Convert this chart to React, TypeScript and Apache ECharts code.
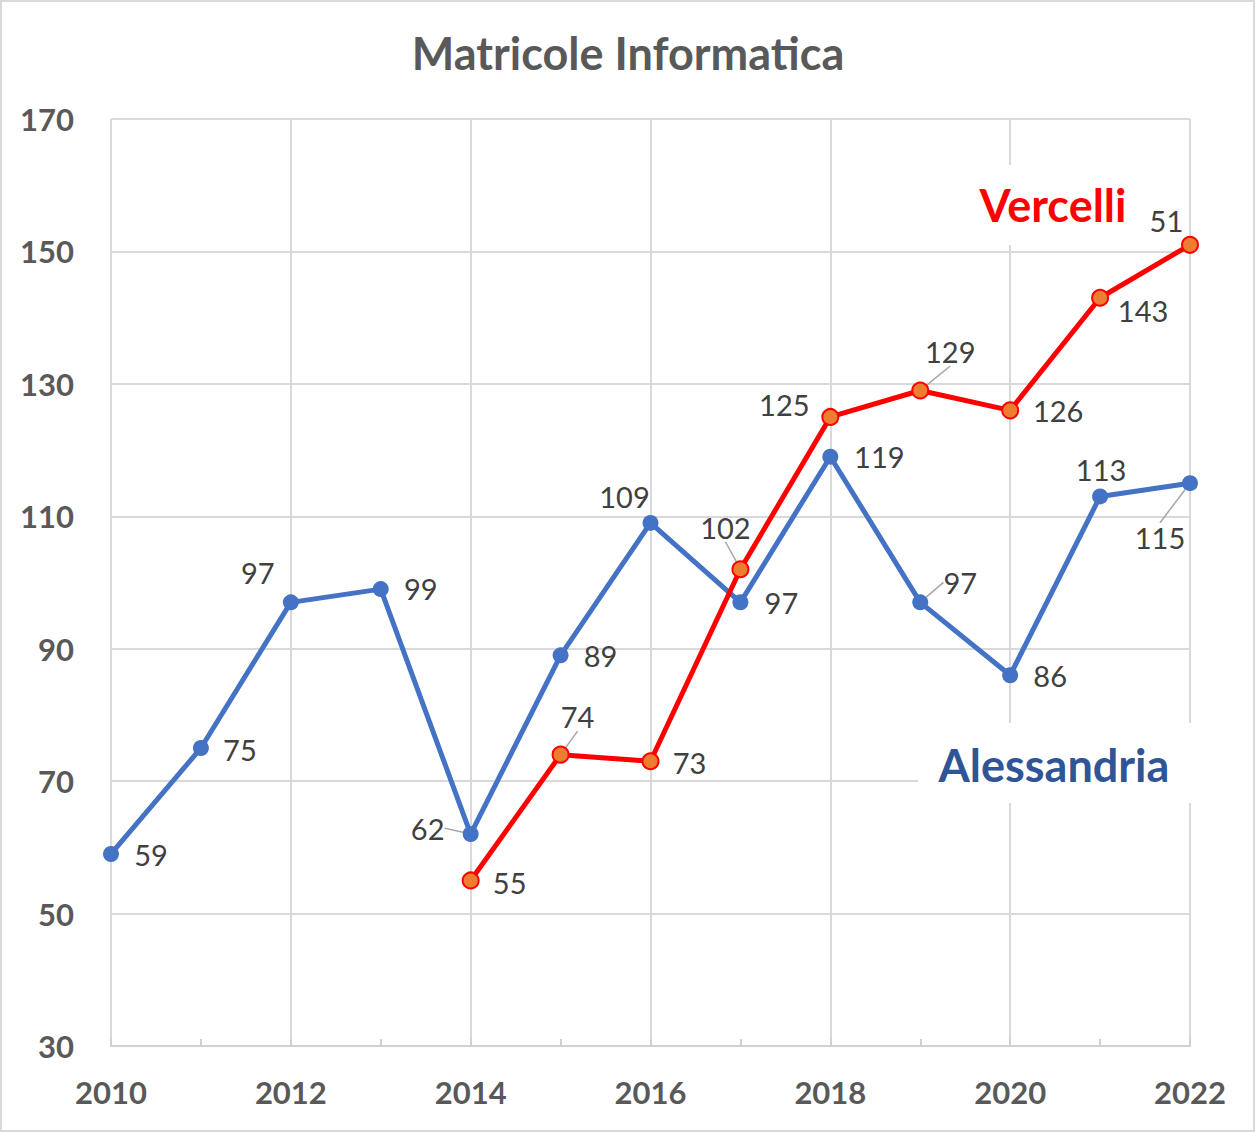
import React, { useEffect, useRef } from "react";
import * as echarts from "echarts";

const years = ["2010", "2011", "2012", "2013", "2014", "2015", "2016", "2017", "2018", "2019", "2020", "2021", "2022"];
const alessandria = [59, 75, 97, 99, 62, 89, 109, 97, 119, 97, 86, 113, 115];
const vercelli = [null, null, null, null, 55, 74, 73, 102, 125, 129, 126, 143, 151];
const yTicks = { min: 30, max: 170, step: 20 };

// label placement (pixel offsets from the marker), Excel-like manual positions
const alessOffsets = [[40, 1], [39, 1], [-33, -30], [40, -1], [-43, -6], [40, 0], [-26, -26], [41, 0], [49, 0], [40, -20], [40, 0], [1, -27], [-30, 54]];
const alessLeader = [false, false, false, false, true, false, false, false, false, true, false, false, true];
const vercOffsets = [[0, 0], [0, 0], [0, 0], [0, 0], [39, 2], [17, -38], [39, 1], [-15, -42], [-46, -12], [30, -39], [48, 0], [43, 13], [-32, -24]];
const vercLeader = [false, false, false, false, false, true, false, true, false, true, false, false, false];

const FONT = "Lato, 'Open Sans', sans-serif";

export default function App() {
  const ref = useRef<HTMLDivElement>(null);
  useEffect(() => {
    document.body.style.margin = "0";
    const chart = echarts.init(ref.current!, null, { renderer: "svg" });
    const labelStyle = { show: true, position: "inside", fontFamily: FONT, fontSize: 29, color: "#404040" };
    const mkData = (vals: (number | null)[], leader: boolean[]) =>
      vals.map((v, i) => ({ value: v, labelLine: { show: leader[i], lineStyle: { color: "#a6a6a6", width: 1.5 } } }));
    chart.setOption({
      animation: false,
      backgroundColor: "#ffffff",
      title: {
        text: "Matricole Informatica",
        left: "center",
        top: 25,
        textStyle: { fontFamily: FONT, fontWeight: "bold", fontSize: 45, color: "#595959" },
      },
      grid: { left: 111, right: 66, top: 119, bottom: 87, containLabel: false },
      xAxis: {
        type: "category",
        data: years,
        boundaryGap: false,
        axisLine: { lineStyle: { color: "#d0d0d0", width: 2 } },
        axisTick: { show: true, inside: true, length: 7, interval: 0, lineStyle: { color: "#d0d0d0", width: 2 } },
        axisLabel: { interval: 1, margin: 30, fontFamily: FONT, fontWeight: "bold", fontSize: 31, color: "#595959" },
        splitLine: { show: true, interval: 1, lineStyle: { color: "#d9d9d9", width: 2 } },
      },
      yAxis: {
        type: "value",
        min: yTicks.min,
        max: yTicks.max,
        interval: yTicks.step,
        axisLine: { show: false },
        axisTick: { show: false },
        axisLabel: { margin: 37, fontFamily: FONT, fontWeight: "bold", fontSize: 31, color: "#595959" },
        splitLine: { show: true, lineStyle: { color: "#d9d9d9", width: 2 } },
      },
      series: [
        {
          name: "Alessandria",
          type: "line",
          data: mkData(alessandria, alessLeader),
          symbol: "circle",
          symbolSize: 16,
          lineStyle: { color: "#4472C4", width: 5 },
          itemStyle: { color: "#4472C4" },
          label: labelStyle,
          labelLayout: (p: any) => ({ dx: alessOffsets[p.dataIndex][0], dy: alessOffsets[p.dataIndex][1] }),
          z: 2,
        },
        {
          name: "Vercelli",
          type: "line",
          data: mkData(vercelli, vercLeader),
          symbol: "circle",
          symbolSize: 16,
          lineStyle: { color: "#FF0000", width: 5 },
          itemStyle: { color: "#ED7D31", borderColor: "#FF0000", borderWidth: 2 },
          label: labelStyle,
          labelLayout: (p: any) => ({ dx: vercOffsets[p.dataIndex][0], dy: vercOffsets[p.dataIndex][1] }),
          z: 3,
        },
      ],
      graphic: [
        {
          type: "rect",
          z: 0,
          silent: true,
          shape: { x: 1, y: 1, width: 1253, height: 1130 },
          style: { fill: "none", stroke: "#d9d9d9", lineWidth: 2 },
        },
        { type: "rect", z: 100, shape: { x: 968, y: 165, width: 181, height: 80 }, style: { fill: "#ffffff" } },
        {
          type: "text",
          z: 101,
          x: 1053,
          y: 205,
          style: { text: "Vercelli", fill: "#FF0000", font: `bold 45px ${FONT}`, textAlign: "center", textVerticalAlign: "middle" },
        },
        { type: "rect", z: 100, shape: { x: 918, y: 723, width: 276, height: 80 }, style: { fill: "#ffffff" } },
        {
          type: "text",
          z: 101,
          x: 1054,
          y: 765,
          style: { text: "Alessandria", fill: "#2F5597", font: `bold 45px ${FONT}`, textAlign: "center", textVerticalAlign: "middle" },
        },
      ],
    });
    return () => chart.dispose();
  }, []);
  return <div ref={ref} style={{ width: 1256, height: 1133 }} />;
}
